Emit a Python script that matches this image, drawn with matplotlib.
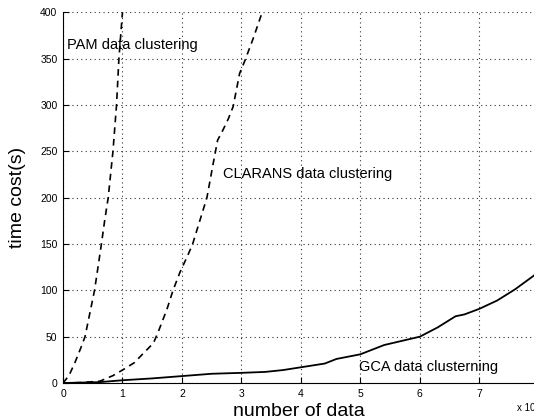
import matplotlib.pyplot as plt
import numpy as np

plt.rcParams['font.family'] = ['Liberation Sans', 'DejaVu Sans']

# values (x in units of 10^4 data)
pam_x = [0, 0.1, 0.2, 0.3, 0.37, 0.45, 0.53, 0.6, 0.65, 0.7, 0.76, 0.84, 0.9, 0.94, 1.0]
pam_y = [0, 8, 22, 38, 50, 75, 100, 130, 152, 175, 200, 250, 300, 350, 400]

clarans_x = [0, 0.3, 0.62, 0.84, 1.0, 1.2, 1.35, 1.52, 1.6, 1.75, 1.85, 1.97, 2.1, 2.18,
             2.3, 2.42, 2.52, 2.6, 2.69, 2.78, 2.86, 2.97, 3.06, 3.2, 3.35]
clarans_y = [0, 0.5, 2, 8, 14, 22, 32, 43, 55, 80, 100, 120, 138, 150,
             175, 200, 235, 262, 273, 285, 298, 334, 348, 372, 400]

gca_x = [0, 0.62, 1, 1.5, 2, 2.5, 3, 3.4, 3.7, 4, 4.4, 4.6, 5, 5.2, 5.4, 5.6,
         6, 6.3, 6.6, 6.75, 7, 7.3, 7.6, 7.92]
gca_y = [0, 1, 3, 5, 7.5, 10, 11, 12, 14, 17, 21, 26, 31, 36, 41, 44,
         50, 60, 72, 74, 80, 89, 101, 116]

xticks = [0, 1, 2, 3, 4, 5, 6, 7]
yticks = [0, 50, 100, 150, 200, 250, 300, 350, 400]

fig = plt.figure(figsize=(5.34, 4.2), dpi=100)
ax = fig.add_axes([0.118, 0.088, 0.882, 0.883])

ax.plot(pam_x, pam_y, color='black', lw=1.2, dashes=(4, 3))
ax.plot(clarans_x, clarans_y, color='black', lw=1.2, dashes=(4, 3))
ax.plot(gca_x, gca_y, color='black', lw=1.3)

ax.set_xlim(0, 7.92)
ax.set_ylim(0, 400)
ax.set_xticks(xticks)
ax.set_yticks(yticks)
ax.tick_params(direction='in', length=4, labelsize=7.5, pad=4, color='black')
ax.grid(True, linestyle=(0, (1, 3)), color='#333333', linewidth=0.8)

ax.spines['top'].set_visible(False)
ax.spines['right'].set_visible(False)

ax.text(0.07, 365, 'PAM data clustering', fontsize=10.5, va='center')
ax.text(2.69, 225, 'CLARANS data clustering', fontsize=10.5, va='center')
ax.text(4.97, 17, 'GCA data clusterning', fontsize=10.5, va='center')

ax.set_xlabel('number of data', fontsize=14, labelpad=3)
ax.set_ylabel('time cost(s)', fontsize=14, labelpad=10)
fig.text(0.968, 0.028, 'x 10', fontsize=7, ha='left', va='center')

fig.savefig('out.png', dpi=100)
